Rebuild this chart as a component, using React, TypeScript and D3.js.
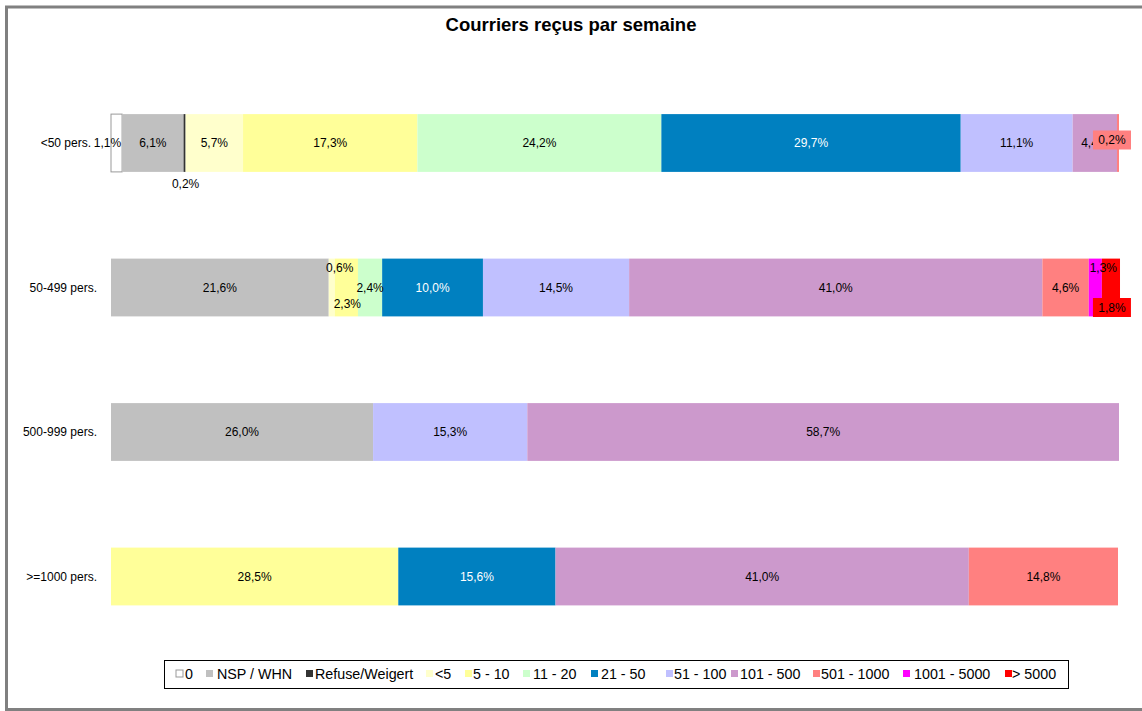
import React from "react";
import * as d3 from "d3";

const categories = ["<50 pers.", "50-499 pers.", "500-999 pers.", ">=1000 pers."];
const seriesNames = ["0", "NSP / WHN", "Refuse/Weigert", "<5", "5 - 10", "11 - 20", "21 - 50", "51 - 100", "101 - 500", "501 - 1000", "1001 - 5000", "> 5000"];
const seriesColors = ["#FFFFFF", "#C0C0C0", "#333333", "#FFFFCC", "#FFFF99", "#CCFFCC", "#0080C0", "#C0C0FF", "#CC99CC", "#FF8080", "#FF00FF", "#FF0000"];
// values per category, in series order
const valuesLt50 = [1.1, 6.1, 0.2, 5.7, 17.3, 24.2, 29.7, 11.1, 4.4, 0.2, 0, 0];
const values50to499 = [0, 21.6, 0, 0.6, 2.3, 2.4, 10.0, 14.5, 41.0, 4.6, 1.3, 1.8];
const values500to999 = [0, 26.0, 0, 0, 0, 0, 0, 15.3, 58.7, 0, 0, 0];
const values1000plus = [0, 0, 0, 0, 28.5, 0, 15.6, 0, 41.0, 14.8, 0, 0];
const rows = [valuesLt50, values50to499, values500to999, values1000plus];
const title = "Courriers reçus par semaine";

// label placement tweaks (row, series) -> dx, dy, boxed
const labelTweaks: Record<string, { dx: number; dy: number; box?: boolean }> = {
  "0|0": { dx: -9, dy: 0 },
  "0|2": { dx: 1, dy: 41 },
  "0|9": { dx: -6, dy: -3, box: true },
  "1|3": { dx: 8, dy: -20 },
  "1|4": { dx: 1, dy: 16 },
  "1|10": { dx: 8, dy: -20 },
  "1|11": { dx: 1, dy: 20, box: true },
};
const categoryLabelShift = [-6, 0, 0, 0];

const fmt = (v: number) => v.toFixed(1).replace(".", ",") + "%";

export default function App() {
  const W = 1142, H = 711;
  const x = d3.scaleLinear().domain([0, 100]).range([111, 1119]);
  const y = d3.scaleBand<string>().domain(categories).range([70.75, 648.75]).paddingInner(0.6).paddingOuter(0.3);
  const font = "Liberation Sans, Arial, sans-serif";

  const segs: any[] = [];
  const labels: any[] = [];
  rows.forEach((row, ri) => {
    let cum = 0;
    row.forEach((v, si) => {
      if (v > 0) {
        const x0 = x(cum), x1 = x(cum + v);
        const y0 = y(categories[ri])!;
        segs.push({ key: `${ri}-${si}`, x0, x1, y0, h: y.bandwidth(), si });
        const t = labelTweaks[`${ri}|${si}`] || { dx: 0, dy: 0 };
        labels.push({ key: `l${ri}-${si}`, cx: (x0 + x1) / 2 + t.dx, cy: y0 + y.bandwidth() / 2 + t.dy, text: fmt(v), si, box: t.box });
      }
      cum += v;
    });
  });

  // legend layout
  const legendSwatchX = [176, 206, 306, 426, 465, 523, 591, 666, 731, 813, 903, 1005];
  const legendTextX = [185, 217, 315, 435, 473, 533, 601, 674, 740, 821, 914, 1012];

  return (
    <svg width={W} height={H} style={{ position: "absolute", left: 0, top: 0 }} fontFamily={font}>
      <rect x={0} y={0} width={W} height={H} fill="#fff" />
      <rect x={6.5} y={7} width={W + 20} height={702.5} fill="none" stroke="#808080" strokeWidth={3} />
      <text x={571} y={31} textAnchor="middle" fontSize={18.5} fontWeight="bold" fill="#000">{title}</text>
      {categories.map((c, i) => (
        <text key={c} x={97 + categoryLabelShift[i]} y={y(c)! + y.bandwidth() / 2 + 4} textAnchor="end" fontSize={12} fill="#000">{c}</text>
      ))}
      {segs.map((s) => (
        <rect key={s.key} x={s.x0} y={s.y0} width={s.x1 - s.x0} height={s.h} fill={seriesColors[s.si]}
          stroke={s.si === 0 ? "#999" : "none"} strokeWidth={s.si === 0 ? 1 : 0} />
      ))}
      {labels.map((l) => (
        <g key={l.key}>
          {l.box && <rect x={l.cx - 19} y={l.cy - 9.5} width={38} height={19} fill={seriesColors[l.si]} />}
          <text x={l.cx} y={l.cy + 4} textAnchor="middle" fontSize={12} fill={l.si === 6 ? "#fff" : "#000"}>{l.text}</text>
        </g>
      ))}
      <rect x={164.5} y={660.5} width={904} height={28} fill="#fff" stroke="#000" strokeWidth={1} />
      {seriesNames.map((n, i) => (
        <g key={n}>
          <rect x={legendSwatchX[i]} y={670} width={7} height={7} fill={seriesColors[i]} stroke={i === 0 ? "#999" : "none"} />
          <text x={legendTextX[i]} y={679} fontSize={14.3} fill="#000">{n}</text>
        </g>
      ))}
    </svg>
  );
}
